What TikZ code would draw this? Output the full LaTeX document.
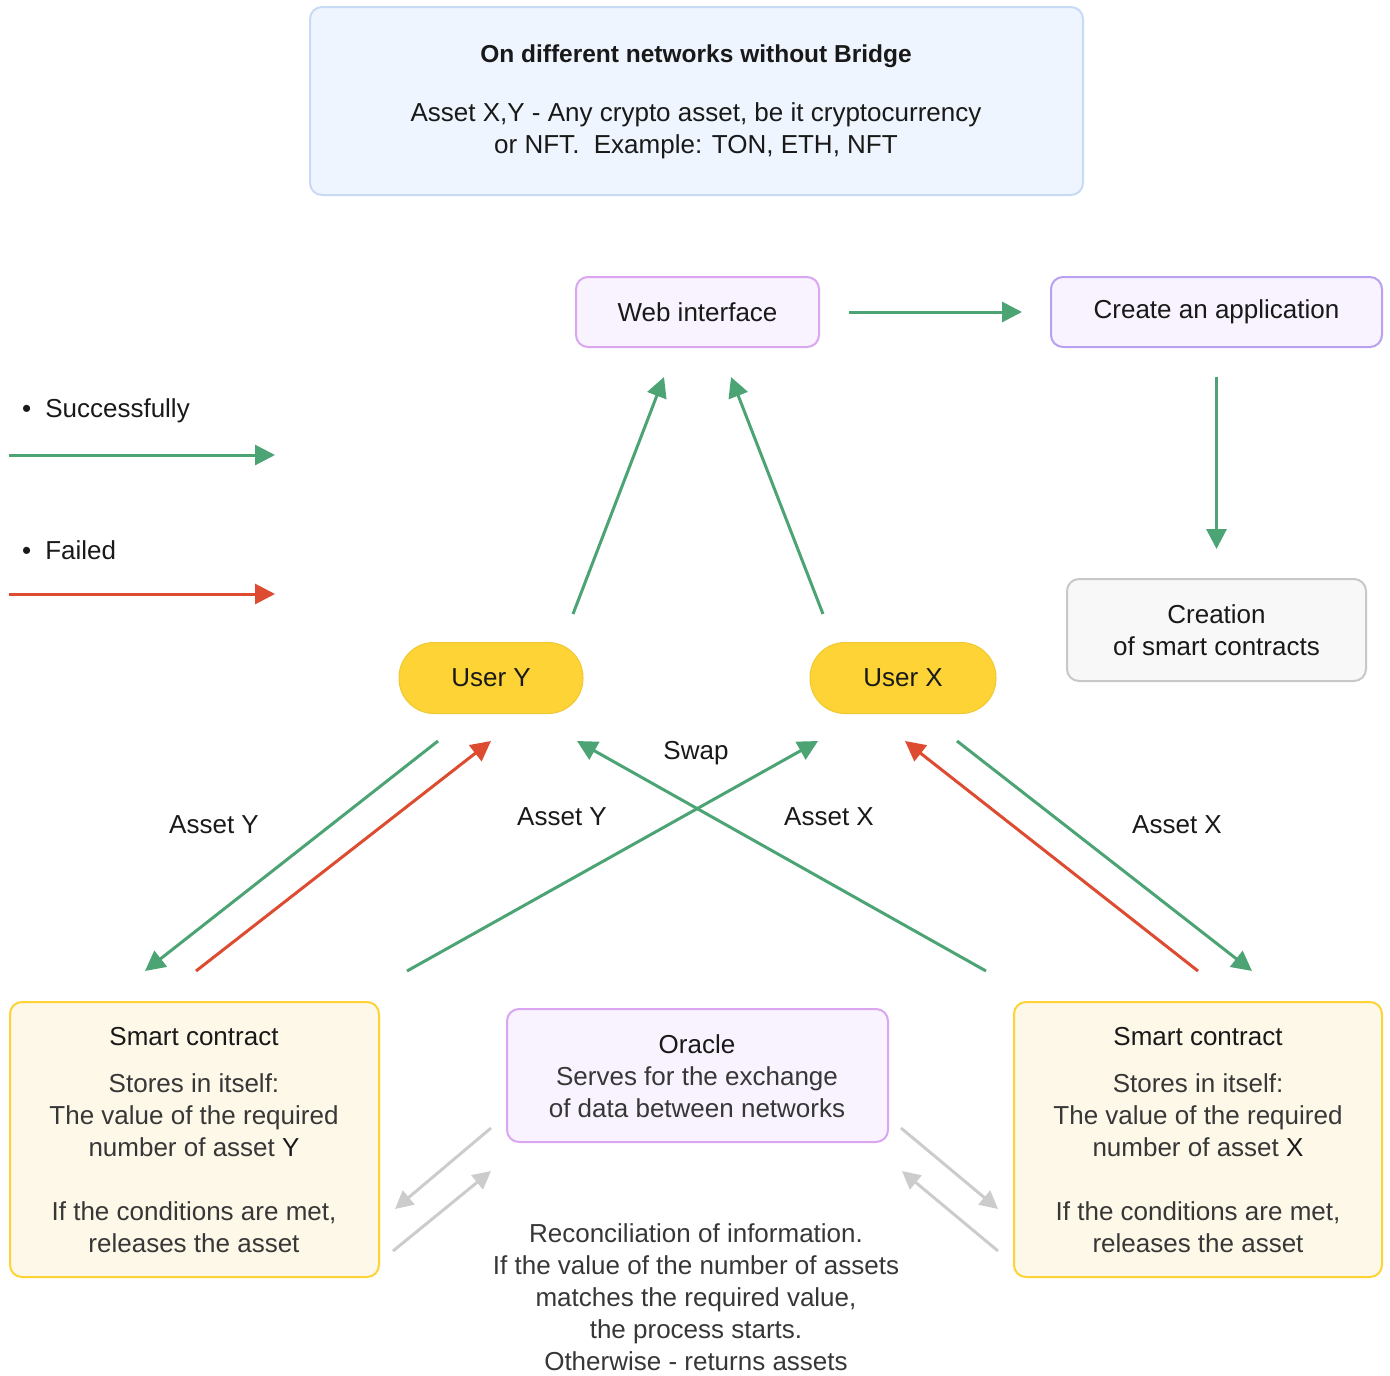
\documentclass[tikz,border=0pt]{standalone}
\usepackage{fontspec}
\setmainfont{Liberation Sans}
\usetikzlibrary{arrows.meta}
\definecolor{grn}{RGB}{76,163,115}
\definecolor{rd}{RGB}{221,75,48}
\definecolor{gry}{RGB}{204,204,204}
\definecolor{topfill}{RGB}{238,245,254}
\definecolor{topline}{RGB}{200,218,245}
\definecolor{purfill}{RGB}{248,243,254}
\definecolor{pinkline}{RGB}{218,166,240}
\definecolor{purline}{RGB}{185,160,240}
\definecolor{yel}{RGB}{253,211,53}
\definecolor{yelline}{RGB}{240,200,50}
\definecolor{scfill}{RGB}{254,248,233}
\definecolor{crfill}{RGB}{248,248,248}
\definecolor{crline}{RGB}{200,200,200}
\definecolor{txt}{RGB}{25,25,25}
\definecolor{ltxt}{RGB}{55,55,55}
\begin{document}
\begin{tikzpicture}[x=1pt,y=-1pt,
  every node/.style={font=\fontsize{26}{32}\selectfont, text=txt, inner sep=0pt},
  box/.style={draw, rounded corners=12pt, line width=2pt},
  arr/.style={line width=3pt, -{Triangle[length=20pt,width=20pt]}},
  garr/.style={arr, draw=grn},
  rarr/.style={arr, draw=rd},
  gyarr/.style={line width=3pt, draw=gry, -{Triangle[length=18pt,width=18pt]}},
  light/.style={text=ltxt, align=center}
]
\useasboundingbox (0,0) rectangle (1390,1376);

% top box
\node[box, draw=topline, fill=topfill, minimum width=773pt, minimum height=188pt] (top) at (696.5,101) {};
\node[font=\bfseries\fontsize{24.5}{32}\selectfont] (toptitle) at (696,56) {On different networks without Bridge};
\node[align=center] (toptext) at (696,131) {Asset X,Y - Any crypto asset, be it cryptocurrency\\or NFT.\ \ Example: TON, ETH, NFT};

% web interface and application
\node[box, draw=pinkline, fill=purfill, minimum width=243pt, minimum height=70pt] (web) at (697.5,312) {Web interface};
\node[box, draw=purline, fill=purfill, minimum width=331pt, minimum height=70pt] (create) at (1216.5,312) {Create an application};
\node[box, draw=crline, fill=crfill, minimum width=299pt, minimum height=102pt, align=center] (creation) at (1216.5,630) {Creation\\of smart contracts};

\draw[garr, shorten <=29pt, shorten >=28pt] (web.east) -- (create.west);
\draw[garr, shorten <=29pt, shorten >=29pt] (create.south) -- (creation.north);

% legend
\node[anchor=west] (succ) at (22,411) {\textbullet\hspace{14pt}Successfully};
\node[anchor=west] (fail) at (22,550) {\textbullet\hspace{14pt}Failed};
\coordinate (s1) at (9,455); \coordinate (s2) at (275,455);
\coordinate (f1) at (9,594); \coordinate (f2) at (275,594);
\draw[garr] (s1) -- (s2);
\draw[rarr] (f1) -- (f2);

% users
\node[draw=yelline, line width=1pt, fill=yel, rounded corners=35pt, minimum width=184pt, minimum height=71pt] (usery) at (491,678) {User Y};
\node[draw=yelline, line width=1pt, fill=yel, rounded corners=35pt, minimum width=186pt, minimum height=71pt] (userx) at (903,678) {User X};

% users to web
\coordinate (uy1) at (573,614); \coordinate (wy) at (664,377);
\coordinate (ux1) at (823,614); \coordinate (wx) at (731,377);
\draw[garr] (uy1) -- (wy);
\draw[garr] (ux1) -- (wx);

\node (swap) at (696,753) {Swap};

% smart contracts
\node[box, draw=yel, fill=scfill, minimum width=369pt, minimum height=275pt] (scy) at (194.5,1139.5) {};
\node[box, draw=yel, fill=scfill, minimum width=368pt, minimum height=275pt] (scx) at (1198,1139.5) {};
\node (scyt) at (194,1037) {Smart contract};
\node[light] (scyb) at (194,1115) {Stores in itself:\\The value of the required\\number of asset \textcolor{txt}{Y}};
\node[light] (scyc) at (194,1227) {If the conditions are met,\\releases the asset};
\node (scxt) at (1198,1037) {Smart contract};
\node[light] (scxb) at (1198,1115) {Stores in itself:\\The value of the required\\number of asset \textcolor{txt}{X}};
\node[light] (scxc) at (1198,1227) {If the conditions are met,\\releases the asset};

% oracle
\node[box, draw=pinkline, fill=purfill, minimum width=381pt, minimum height=133pt] (oracle) at (697.5,1075.5) {};
\node (oraclet) at (697,1044) {Oracle};
\node[light] (oracleb) at (697,1092) {Serves for the exchange\\of data between networks};

% middle arrows
\coordinate (a1s) at (438,741); \coordinate (a1e) at (145,971);
\coordinate (a2s) at (196,971); \coordinate (a2e) at (491,741);
\coordinate (a3s) at (986,971); \coordinate (a3e) at (577,741);
\coordinate (a4s) at (407,971); \coordinate (a4e) at (818,741);
\coordinate (a5s) at (1198,971); \coordinate (a5e) at (905,741);
\coordinate (a6s) at (957,741); \coordinate (a6e) at (1252,971);
\draw[garr] (a1s) -- (a1e);
\draw[rarr] (a2s) -- (a2e);
\draw[garr] (a3s) -- (a3e);
\draw[garr] (a4s) -- (a4e);
\draw[rarr] (a5s) -- (a5e);
\draw[garr] (a6s) -- (a6e);

\node (l1) at (214,825) {Asset Y};
\node (l2) at (562,817) {Asset Y};
\node (l3) at (829,817) {Asset X};
\node (l4) at (1177,825) {Asset X};

% gray arrows
\coordinate (g1s) at (491,1128); \coordinate (g1e) at (395,1209);
\coordinate (g2s) at (393,1251); \coordinate (g2e) at (491,1171);
\coordinate (g3s) at (901,1128); \coordinate (g3e) at (998,1209);
\coordinate (g4s) at (998,1251); \coordinate (g4e) at (902,1171);
\draw[gyarr] (g1s) -- (g1e);
\draw[gyarr] (g2s) -- (g2e);
\draw[gyarr] (g3s) -- (g3e);
\draw[gyarr] (g4s) -- (g4e);

\node[light] (recon) at (696,1297) {Reconciliation of information.\\If the value of the number of assets\\matches the required value,\\the process starts.\\Otherwise - returns assets};
\end{tikzpicture}
\end{document}
